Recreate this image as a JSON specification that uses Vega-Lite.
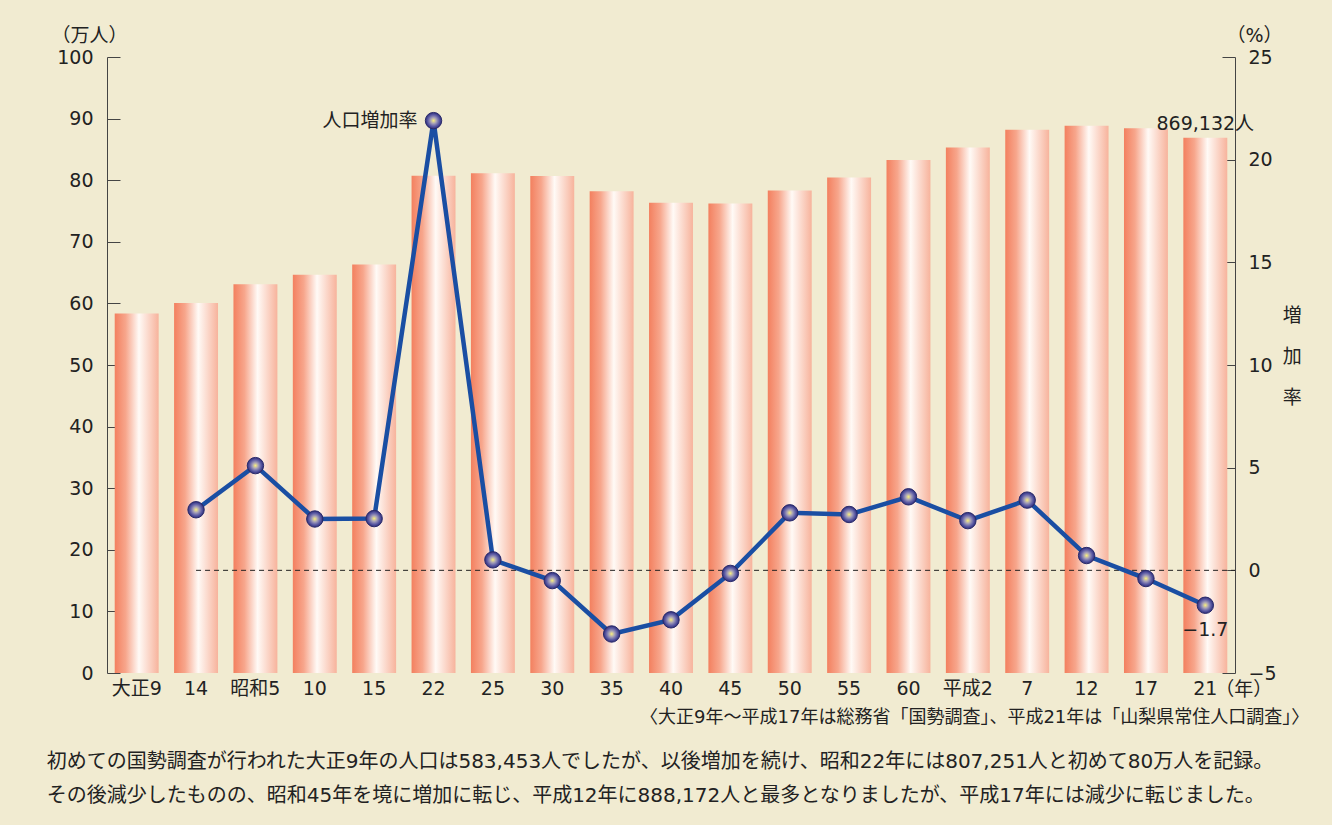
{
  "$schema": "https://vega.github.io/schema/vega-lite/v6.json",
  "width": 1128,
  "height": 616,
  "autosize": {"type": "none"},
  "padding": {"left": 107, "top": 57, "right": 97, "bottom": 152},
  "background": "#f1ebd1",
  "config": {
    "view": {"stroke": null},
    "font": "DejaVu Sans, Noto Sans CJK JP, sans-serif",
    "axis": {
      "labelFont": "DejaVu Sans, Noto Sans CJK JP, sans-serif",
      "titleFont": "DejaVu Sans, Noto Sans CJK JP, sans-serif",
      "labelFontSize": 19,
      "labelColor": "#222222",
      "titleFontSize": 19,
      "titleFontWeight": "normal",
      "titleColor": "#222222",
      "domainColor": "#444444",
      "tickColor": "#444444",
      "grid": false
    },
    "text": {"font": "DejaVu Sans, Noto Sans CJK JP, sans-serif", "fontSize": 19, "fill": "#222222", "fontWeight": "normal"}
  },
  "data": {
    "values": [
      {"year": "大正9", "pop": 58.35, "rate": null},
      {"year": "14", "pop": 60.07, "rate": 2.95},
      {"year": "昭和5", "pop": 63.10, "rate": 5.1},
      {"year": "10", "pop": 64.67, "rate": 2.5},
      {"year": "15", "pop": 66.30, "rate": 2.52},
      {"year": "22", "pop": 80.73, "rate": 21.9},
      {"year": "25", "pop": 81.14, "rate": 0.51},
      {"year": "30", "pop": 80.70, "rate": -0.5},
      {"year": "35", "pop": 78.21, "rate": -3.1},
      {"year": "40", "pop": 76.32, "rate": -2.41},
      {"year": "45", "pop": 76.20, "rate": -0.15},
      {"year": "50", "pop": 78.31, "rate": 2.8},
      {"year": "55", "pop": 80.43, "rate": 2.72},
      {"year": "60", "pop": 83.28, "rate": 3.58},
      {"year": "平成2", "pop": 85.30, "rate": 2.42},
      {"year": "7", "pop": 88.20, "rate": 3.42},
      {"year": "12", "pop": 88.82, "rate": 0.72},
      {"year": "17", "pop": 88.45, "rate": -0.4},
      {"year": "21", "pop": 86.91, "rate": -1.7}
    ]
  },
  "layer": [
    {
      "layer": [
        {
          "mark": {
            "type": "bar",
            "color": {
              "gradient": "linear",
              "x1": 0, "y1": 0, "x2": 1, "y2": 0,
              "stops": [
                {"offset": 0, "color": "#f3805f"},
                {"offset": 0.25, "color": "#f7a68c"},
                {"offset": 0.55, "color": "#fffaf6"},
                {"offset": 1, "color": "#f7b39c"}
              ]
            }
          },
          "encoding": {
            "x": {
              "field": "year", "type": "nominal", "sort": null,
              "scale": {"paddingInner": 0.26, "paddingOuter": 0.13},
              "axis": {"title": null, "domain": false, "ticks": false, "tickSize": 0, "labelPadding": 6, "labelAngle": 0}
            },
            "y": {
              "field": "pop", "type": "quantitative",
              "scale": {"domain": [0, 100], "nice": false},
              "axis": {
                "orient": "left",
                "values": [0, 10, 20, 30, 40, 50, 60, 70, 80, 90, 100],
                "tickSize": -13,
                "labelPadding": 27,
                "title": "（万人）",
                "titleAngle": 0,
                "titleX": -18,
                "titleY": -22,
                "titleAlign": "center",
                "titleBaseline": "middle"
              }
            }
          }
        },
        {
          "data": {"values": [{}]},
          "mark": {"type": "text", "text": "869,132人", "baseline": "middle", "align": "center", "dy": -14},
          "encoding": {"x": {"datum": "21"}, "y": {"datum": 86.91}}
        },
        {
          "data": {"values": [{}]},
          "mark": {"type": "text", "text": "（年）", "baseline": "middle", "align": "left", "dx": 10, "dy": 17},
          "encoding": {"x": {"datum": "21"}, "y": {"datum": 0}}
        },
        {
          "data": {"values": [{}]},
          "mark": {"type": "text", "text": "〈大正9年〜平成17年は総務省「国勢調査」、平成21年は「山梨県常住人口調査」〉", "fontSize": 18, "baseline": "middle", "align": "right", "dx": 104, "dy": 45},
          "encoding": {"x": {"datum": "21"}, "y": {"datum": 0}}
        },
        {
          "data": {"values": [{}]},
          "mark": {"type": "text", "text": "初めての国勢調査が行われた大正9年の人口は583,453人でしたが、以後増加を続け、昭和22年には807,251人と初めて80万人を記録。", "fontSize": 20, "baseline": "middle", "align": "left", "dx": -90, "dy": 89},
          "encoding": {"x": {"datum": "大正9"}, "y": {"datum": 0}}
        },
        {
          "data": {"values": [{}]},
          "mark": {"type": "text", "text": "その後減少したものの、昭和45年を境に増加に転じ、平成12年に888,172人と最多となりましたが、平成17年には減少に転じました。", "fontSize": 20, "baseline": "middle", "align": "left", "dx": -90, "dy": 123},
          "encoding": {"x": {"datum": "大正9"}, "y": {"datum": 0}}
        }
      ]
    },
    {
      "layer": [
        {
          "data": {"values": [{}]},
          "mark": {"type": "rule", "strokeDash": [5, 4], "color": "#222222", "strokeWidth": 1},
          "encoding": {"x": {"datum": "14"}, "x2": {"value": "width"}, "y": {"datum": 0}}
        },
        {
          "mark": {"type": "line", "color": "#1a4ea3", "strokeWidth": 4.5},
          "encoding": {
            "x": {"field": "year", "type": "nominal", "sort": null},
            "y": {
              "field": "rate", "type": "quantitative",
              "scale": {"domain": [-5, 25], "nice": false},
              "axis": {
                "orient": "right",
                "values": [-5, 0, 5, 10, 15, 20, 25],
                "tickSize": -13,
                "labelPadding": 26,
                "title": "（%）",
                "titleAngle": 0,
                "titleX": 19,
                "titleY": -22,
                "titleAlign": "center",
                "titleBaseline": "middle"
              }
            }
          }
        },
        {
          "mark": {
            "type": "point", "filled": true, "size": 270, "opacity": 1,
            "fill": {
              "gradient": "radial",
              "x1": 0.5, "y1": 0.5, "r1": 0,
              "x2": 0.5, "y2": 0.5, "r2": 0.5,
              "stops": [
                {"offset": 0, "color": "#fbf27a"},
                {"offset": 0.35, "color": "#a9a3b8"},
                {"offset": 0.7, "color": "#5d5ca6"},
                {"offset": 1, "color": "#2d2d78"}
              ]
            },
            "stroke": "#2a2a6a", "strokeWidth": 1
          },
          "encoding": {
            "x": {"field": "year", "type": "nominal", "sort": null},
            "y": {"field": "rate", "type": "quantitative"}
          }
        },
        {
          "data": {"values": [{}]},
          "mark": {"type": "text", "text": "人口増加率", "baseline": "middle", "align": "right", "dx": -16},
          "encoding": {"x": {"datum": "22"}, "y": {"datum": 21.9}}
        },
        {
          "data": {"values": [{}]},
          "mark": {"type": "text", "text": "−1.7", "baseline": "middle", "align": "center", "dy": 25},
          "encoding": {"x": {"datum": "21"}, "y": {"datum": -1.7}}
        },
        {
          "data": {"values": [{}]},
          "mark": {"type": "text", "text": ["増", "加", "率"], "baseline": "middle", "align": "center", "dx": 87, "lineHeight": 41},
          "encoding": {"x": {"datum": "21"}, "y": {"datum": 12.4}}
        }
      ]
    }
  ],
  "resolve": {"scale": {"y": "independent"}, "axis": {"y": "independent"}}
}
